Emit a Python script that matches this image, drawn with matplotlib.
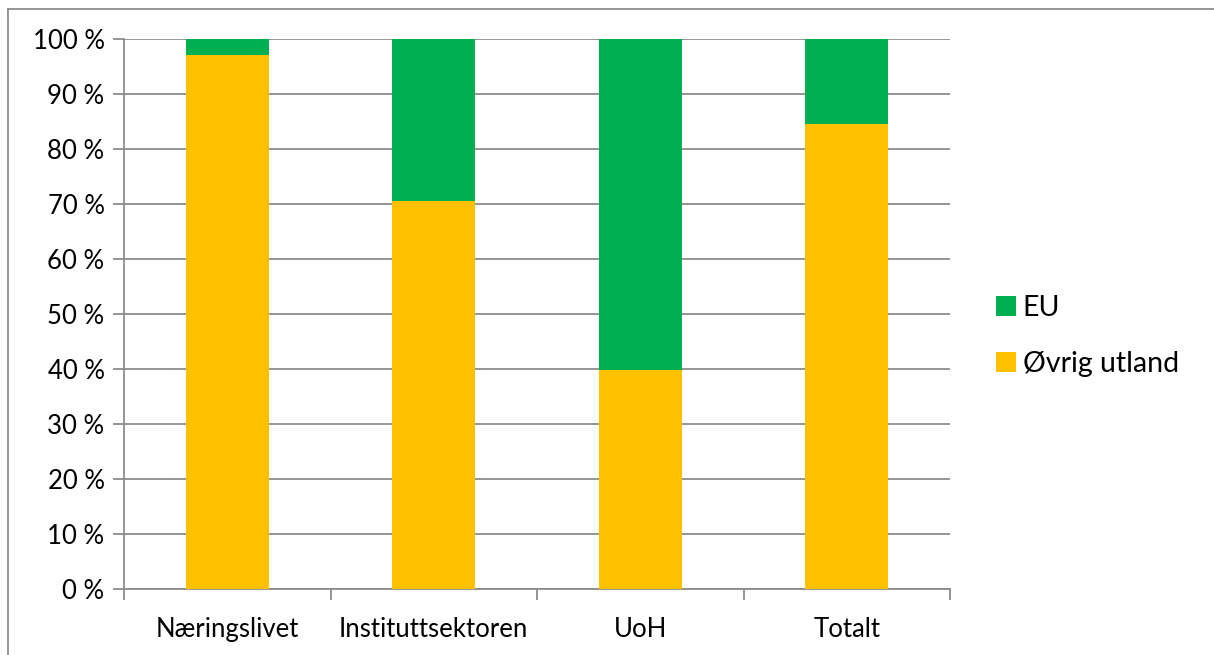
import matplotlib
matplotlib.use("Agg")
import matplotlib.pyplot as plt
from matplotlib.lines import Line2D
from matplotlib.ticker import FixedLocator

categories = ["Næringslivet", "Instituttsektoren", "UoH", "Totalt"]
ovrig = [97.1, 70.5, 39.9, 84.5]
eu = [2.9, 29.5, 60.1, 15.5]
yticks = [0, 10, 20, 30, 40, 50, 60, 70, 80, 90, 100]
ytick_labels = [f"{v} %" for v in yticks]

plt.rcParams['font.family'] = ['Lato', 'DejaVu Sans']

fig = plt.figure(figsize=(12.14, 6.55), dpi=100)
ax = fig.add_axes([124/1214, 1 - 589/655, (950-124)/1214, (589-39)/655])

x = list(range(len(categories)))
gold = "#FFC000"
green = "#00B050"
ax.bar(x, ovrig, width=0.4, color=gold, label="Øvrig utland", zorder=3)
ax.bar(x, eu, width=0.4, bottom=ovrig, color=green, label="EU", zorder=3)

ax.set_xlim(-0.5, 3.5)
ax.set_ylim(0, 100)
ax.set_yticks(yticks)
ax.set_yticklabels(ytick_labels, fontsize=18.5)
ax.set_xticks(x)
ax.set_xticklabels(categories, fontsize=18.5)
ax.tick_params(axis='x', length=0, pad=20)
ax.xaxis.set_minor_locator(FixedLocator([-0.5, 0.5, 1.5, 2.5, 3.5]))
ax.tick_params(axis='x', which='minor', length=8, color="#8c8c8c", width=1.3)
ax.tick_params(axis='y', length=8, color="#8c8c8c", width=1.3, pad=6)
ax.grid(axis='y', color="#8c8c8c", linewidth=1.3, zorder=0)
for s in ['top', 'right']:
    ax.spines[s].set_visible(False)
for s in ['left', 'bottom']:
    ax.spines[s].set_color("#8c8c8c")
    ax.spines[s].set_linewidth(1.3)

handles, labels = ax.get_legend_handles_labels()
leg = fig.legend(handles[::-1], labels[::-1], loc='center left',
                 bbox_to_anchor=(970/1214, 1 - 336/655), frameon=False,
                 fontsize=20.5, handlelength=0.7, handleheight=0.7,
                 handletextpad=0.25, labelspacing=1.05)

# outer frame: left and top edges only
fx0, fy0 = 8/1214, 1 - 9/655
fig.add_artist(Line2D([fx0, 1.0], [fy0, fy0], transform=fig.transFigure,
                      color="#8c8c8c", linewidth=1.3))
fig.add_artist(Line2D([fx0, fx0], [0.0, fy0], transform=fig.transFigure,
                      color="#8c8c8c", linewidth=1.3))

fig.savefig("out.png", dpi=100)
